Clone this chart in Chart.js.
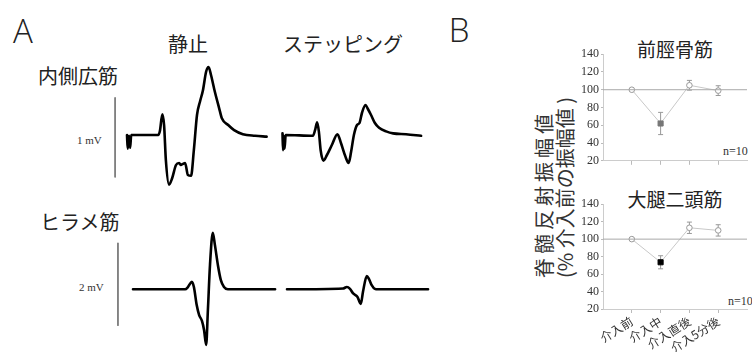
<!DOCTYPE html>
<html>
<head>
<meta charset="utf-8">
<script src="https://cdn.jsdelivr.net/npm/chart.js@4.4.0/dist/chart.umd.min.js"></script>
<style>
  body { margin: 0; background: #fff; }
  #fig { position: relative; width: 752px; height: 352px; overflow: hidden; background: #fff; }
  #fig canvas { position: absolute; }
  .t { position: absolute; white-space: nowrap; line-height: 1; color: #222; font-family: "Noto Sans CJK JP", "Noto Sans", sans-serif; }
  .c { transform: translate(-50%, -50%); }
  .l { transform: translate(0, -50%); }
  .serif { font-family: "Liberation Serif", serif; color: #333; }
  .ytitle { position: absolute; left: 533px; top: 278px; transform-origin: 0 0; transform: rotate(-90deg);
            font-family: "Noto Sans CJK JP", sans-serif; color: #333; white-space: nowrap; }
  .ytitle div { height: 21px; line-height: 21px; }
</style>
</head>
<body>
<div id="fig">
  <div class="t c" style="left:23px;top:30px;font-size:33px;font-family:'Open Sans',sans-serif;font-weight:300;">A</div>
  <div class="t c" style="left:459px;top:29px;font-size:33px;font-family:'Open Sans',sans-serif;font-weight:300;">B</div>
  <div class="t c" style="left:188px;top:44px;font-size:20px;">静止</div>
  <div class="t c" style="left:343px;top:44px;font-size:20px;">ステッピング</div>
  <div class="t l" style="left:38px;top:76px;font-size:20px;">内側広筋</div>
  <div class="t l" style="left:40px;top:222px;font-size:20px;">ヒラメ筋</div>
  <div class="t l serif" style="left:77px;top:140px;font-size:11px;">1 mV</div>
  <div class="t l serif" style="left:79px;top:287px;font-size:11px;">2 mV</div>

  <div class="t c" style="left:675px;top:48px;font-size:19px;">前脛骨筋</div>
  <div class="t c" style="left:675px;top:198px;font-size:19px;">大腿二頭筋</div>
  <div class="t l serif" style="left:723px;top:151px;font-size:12px;">n=10</div>
  <div class="t l serif" style="left:728px;top:301px;font-size:12px;">n=10</div>
  <div class="ytitle">
    <div style="font-size:20px;letter-spacing:4px;">脊髄反射振幅値</div>
    <div style="font-size:20px;">(% 介入前の振幅値 )</div>
  </div>

  <canvas id="vmRest"></canvas>
  <canvas id="vmStep"></canvas>
  <canvas id="solRest"></canvas>
  <canvas id="solStep"></canvas>
  <canvas id="ta"></canvas>
  <canvas id="bf"></canvas>
</div>

<script>
// --- A: reflex waveforms (time in ms, amplitude in mV)
const vmRestT  = [0, 0.2, 0.6, 0.9, 1.2, 8.9, 9.4, 10.1, 10.6, 11.1, 12, 12.9, 14, 14.9, 15.4, 16, 16.6, 17.4, 18.3, 19.1, 20, 20.9, 21.7, 22.6, 23.3, 24, 25.1, 26.3, 27.1, 28.9, 30.6, 33.1, 36.6, 39.9];
const vmRestMv = [0, -0.17, -0.01, -0.16, 0, 0, 0.05, 0.26, 0.12, -0.31, -0.62, -0.54, -0.375, -0.35, -0.375, -0.36, -0.35, -0.5, -0.51, -0.19, 0.25, 0.425, 0.56, 0.79, 0.85, 0.75, 0.54, 0.34, 0.21, 0.125, 0.06, 0.01, -0.01, -0.02];

const vmStepT  = [0, 0.15, 0.4, 0.6, 0.9, 8.7, 9.3, 9.9, 10.4, 10.9, 11.7, 12.7, 14.1, 15.7, 16.7, 17.9, 18.9, 19.6, 20.4, 21.3, 22, 22.7, 23.7, 24.4, 25.3, 26.4, 27.6, 29.6, 31.6, 35.3, 39.6];
const vmStepMv = [0.02, -0.19, -0.01, -0.17, 0, -0.01, 0.06, 0.16, 0.04, -0.19, -0.32, -0.25, -0.125, 0.01, -0.1, -0.26, -0.35, -0.21, 0, 0.125, 0.15, 0.275, 0.375, 0.325, 0.25, 0.15, 0.09, 0.045, 0.02, 0.01, -0.01];

const solRestT  = [0, 14.9, 15.7, 16.8, 17.4, 18.2, 18.9, 19.7, 20.3, 20.9, 21.4, 22, 22.8, 23.4, 24.3, 25.1, 26, 27.1, 40.6];
const solRestMv = [0, 0, 0.055, 0.18, 0.055, -0.38, -0.62, -0.76, -0.98, -1.34, -0.5, 0.59, 1.36, 1.07, 0.56, 0.22, 0.055, 0, 0];

const solStepT  = [0, 16, 17.1, 18, 18.9, 20.1, 21.1, 21.7, 22.8, 23.4, 24.2, 25.1, 26, 40.3];
const solStepMv = [0, 0.02, 0.055, 0.01, -0.1, -0.18, -0.35, -0.065, 0.32, 0.25, 0.1, 0.01, 0, 0];

// calibration bars (mV span) and where they stand on the time axis
const vmBarT = -3.4,  vmBarMv = [0.47, -0.53];
const solBarT = -4.3, solBarMv = [1.12, -0.88];

// --- B: H-reflex amplitude, % of pre-intervention
const phases = ['介入前', '介入中', '介入直後', '介入5分後'];
const taMean = [100, 62, 105, 99];
const taSd   = [0, 12.5, 5.5, 5.5];
const bfMean = [100, 73.5, 113, 110];
const bfSd   = [0, 7.5, 6.5, 6.5];
const refLevel = 100;

function place(id, left, top, w, h) {
  const c = document.getElementById(id);
  c.width = w; c.height = h;
  c.style.left = left + 'px'; c.style.top = top + 'px';
  c.style.width = w + 'px'; c.style.height = h + 'px';
  return c;
}

function traceChart(id, box, origin, pxPerMs, pxPerMv, t, mv, bar) {
  const c = place(id, box.left, box.top, box.w, box.h);
  const datasets = [{
    data: t.map((v, i) => ({ x: v, y: mv[i] })),
    borderColor: '#000', borderWidth: 2.6, pointRadius: 0,
    cubicInterpolationMode: 'monotone', borderJoinStyle: 'round', borderCapStyle: 'round'
  }];
  if (bar) {
    datasets.push({
      data: [{ x: bar.t, y: bar.mv[0] }, { x: bar.t, y: bar.mv[1] }],
      borderColor: '#777', borderWidth: 1, pointRadius: 0
    });
  }
  new Chart(c.getContext('2d'), {
    type: 'line',
    data: { datasets },
    options: {
      responsive: false, animation: false, clip: false,
      layout: { padding: 0 },
      plugins: { legend: { display: false }, tooltip: { enabled: false } },
      scales: {
        x: { type: 'linear', display: false,
             min: (box.left - origin.x) / pxPerMs, max: (box.left + box.w - origin.x) / pxPerMs },
        y: { type: 'linear', display: false,
             max: (origin.y - box.top) / pxPerMv, min: (origin.y - box.top - box.h) / pxPerMv }
      }
    }
  });
}

traceChart('vmRest',  { left: 110, top: 60,  w: 165, h: 135 }, { x: 127,   y: 135 },   3.5, 80,   vmRestT,  vmRestMv,  { t: vmBarT,  mv: vmBarMv });
traceChart('vmStep',  { left: 276, top: 60,  w: 150, h: 135 }, { x: 282.5, y: 135 },   3.5, 80,   vmStepT,  vmStepMv);
traceChart('solRest', { left: 112, top: 225, w: 168, h: 127 }, { x: 133,   y: 289.3 }, 3.5, 41.5, solRestT, solRestMv, { t: solBarT, mv: solBarMv });
traceChart('solStep', { left: 282, top: 225, w: 150, h: 127 }, { x: 287,   y: 289.3 }, 3.5, 41.5, solStepT, solStepMv);

// error bars drawn under the markers
const errorBars = {
  id: 'errorBars',
  beforeDatasetsDraw(chart) {
    const { ctx, scales: { x, y } } = chart;
    chart.data.datasets.forEach(ds => {
      if (!ds.sd) return;
      ctx.save();
      ctx.strokeStyle = '#999';
      ctx.lineWidth = 1;
      ds.data.forEach((p, i) => {
        const sd = ds.sd[i];
        if (!sd) return;
        const px = x.getPixelForValue(p.x);
        const top = y.getPixelForValue(p.y + sd);
        const bot = y.getPixelForValue(p.y - sd);
        ctx.beginPath();
        ctx.moveTo(px, top); ctx.lineTo(px, bot);
        ctx.moveTo(px - 2.5, top); ctx.lineTo(px + 2.5, top);
        ctx.moveTo(px - 2.5, bot); ctx.lineTo(px + 2.5, bot);
        ctx.stroke();
      });
      ctx.restore();
    });
  }
};

function ampChart(id, top, h, mean, sd, midColor, showLabels, axisH) {
  const c = place(id, 567, top, 185, h);
  new Chart(c.getContext('2d'), {
    type: 'line',
    data: {
      datasets: [
        { data: [{ x: 0, y: refLevel }, { x: 5, y: refLevel }],
          borderColor: '#a8a8a8', borderWidth: 1, pointRadius: 0 },
        { data: mean.map((v, i) => ({ x: i + 1, y: v })), sd: sd,
          borderColor: '#c8c8c8', borderWidth: 1,
          pointStyle: ['circle', 'rect', 'circle', 'circle'],
          pointRadius: [2.8, 3.6, 2.8, 2.8],
          pointBackgroundColor: ['#fff', midColor, '#fff', '#fff'],
          pointBorderColor: ['#999', midColor, '#999', '#999'],
          pointBorderWidth: 1 }
      ]
    },
    options: {
      responsive: false, animation: false,
      layout: { padding: { top: 8, right: 0, left: 0, bottom: 0 } },
      plugins: { legend: { display: false }, tooltip: { enabled: false } },
      scales: {
        x: {
          type: 'linear', min: 0, max: 5,
          afterBuildTicks: s => { s.ticks = [1, 2, 3, 4].map(v => ({ value: v })); },
          afterFit: s => { s.height = axisH; },
          ticks: { display: showLabels, autoSkip: false, minRotation: 32, maxRotation: 32, padding: 1,
                   color: '#333', font: { family: 'Noto Sans CJK JP', size: 12 },
                   callback: v => phases[v - 1] },
          grid: { drawOnChartArea: false, tickLength: 4, color: '#bbb' },
          border: { color: '#ccc' }
        },
        y: {
          min: 20, max: 140,
          afterFit: s => { s.width = 36; },
          ticks: { stepSize: 20, autoSkip: false, padding: 2, color: '#333', font: { family: 'Liberation Serif', size: 12 } },
          grid: { drawOnChartArea: false, tickLength: 2, color: '#bbb' },
          border: { color: '#ccc' }
        }
      }
    },
    plugins: [errorBars]
  });
}

ampChart('ta', 45, 125, taMean, taSd, '#777', false, 6);
ampChart('bf', 195, 157, bfMean, bfSd, '#000', true, 43);
</script>
</body>
</html>
